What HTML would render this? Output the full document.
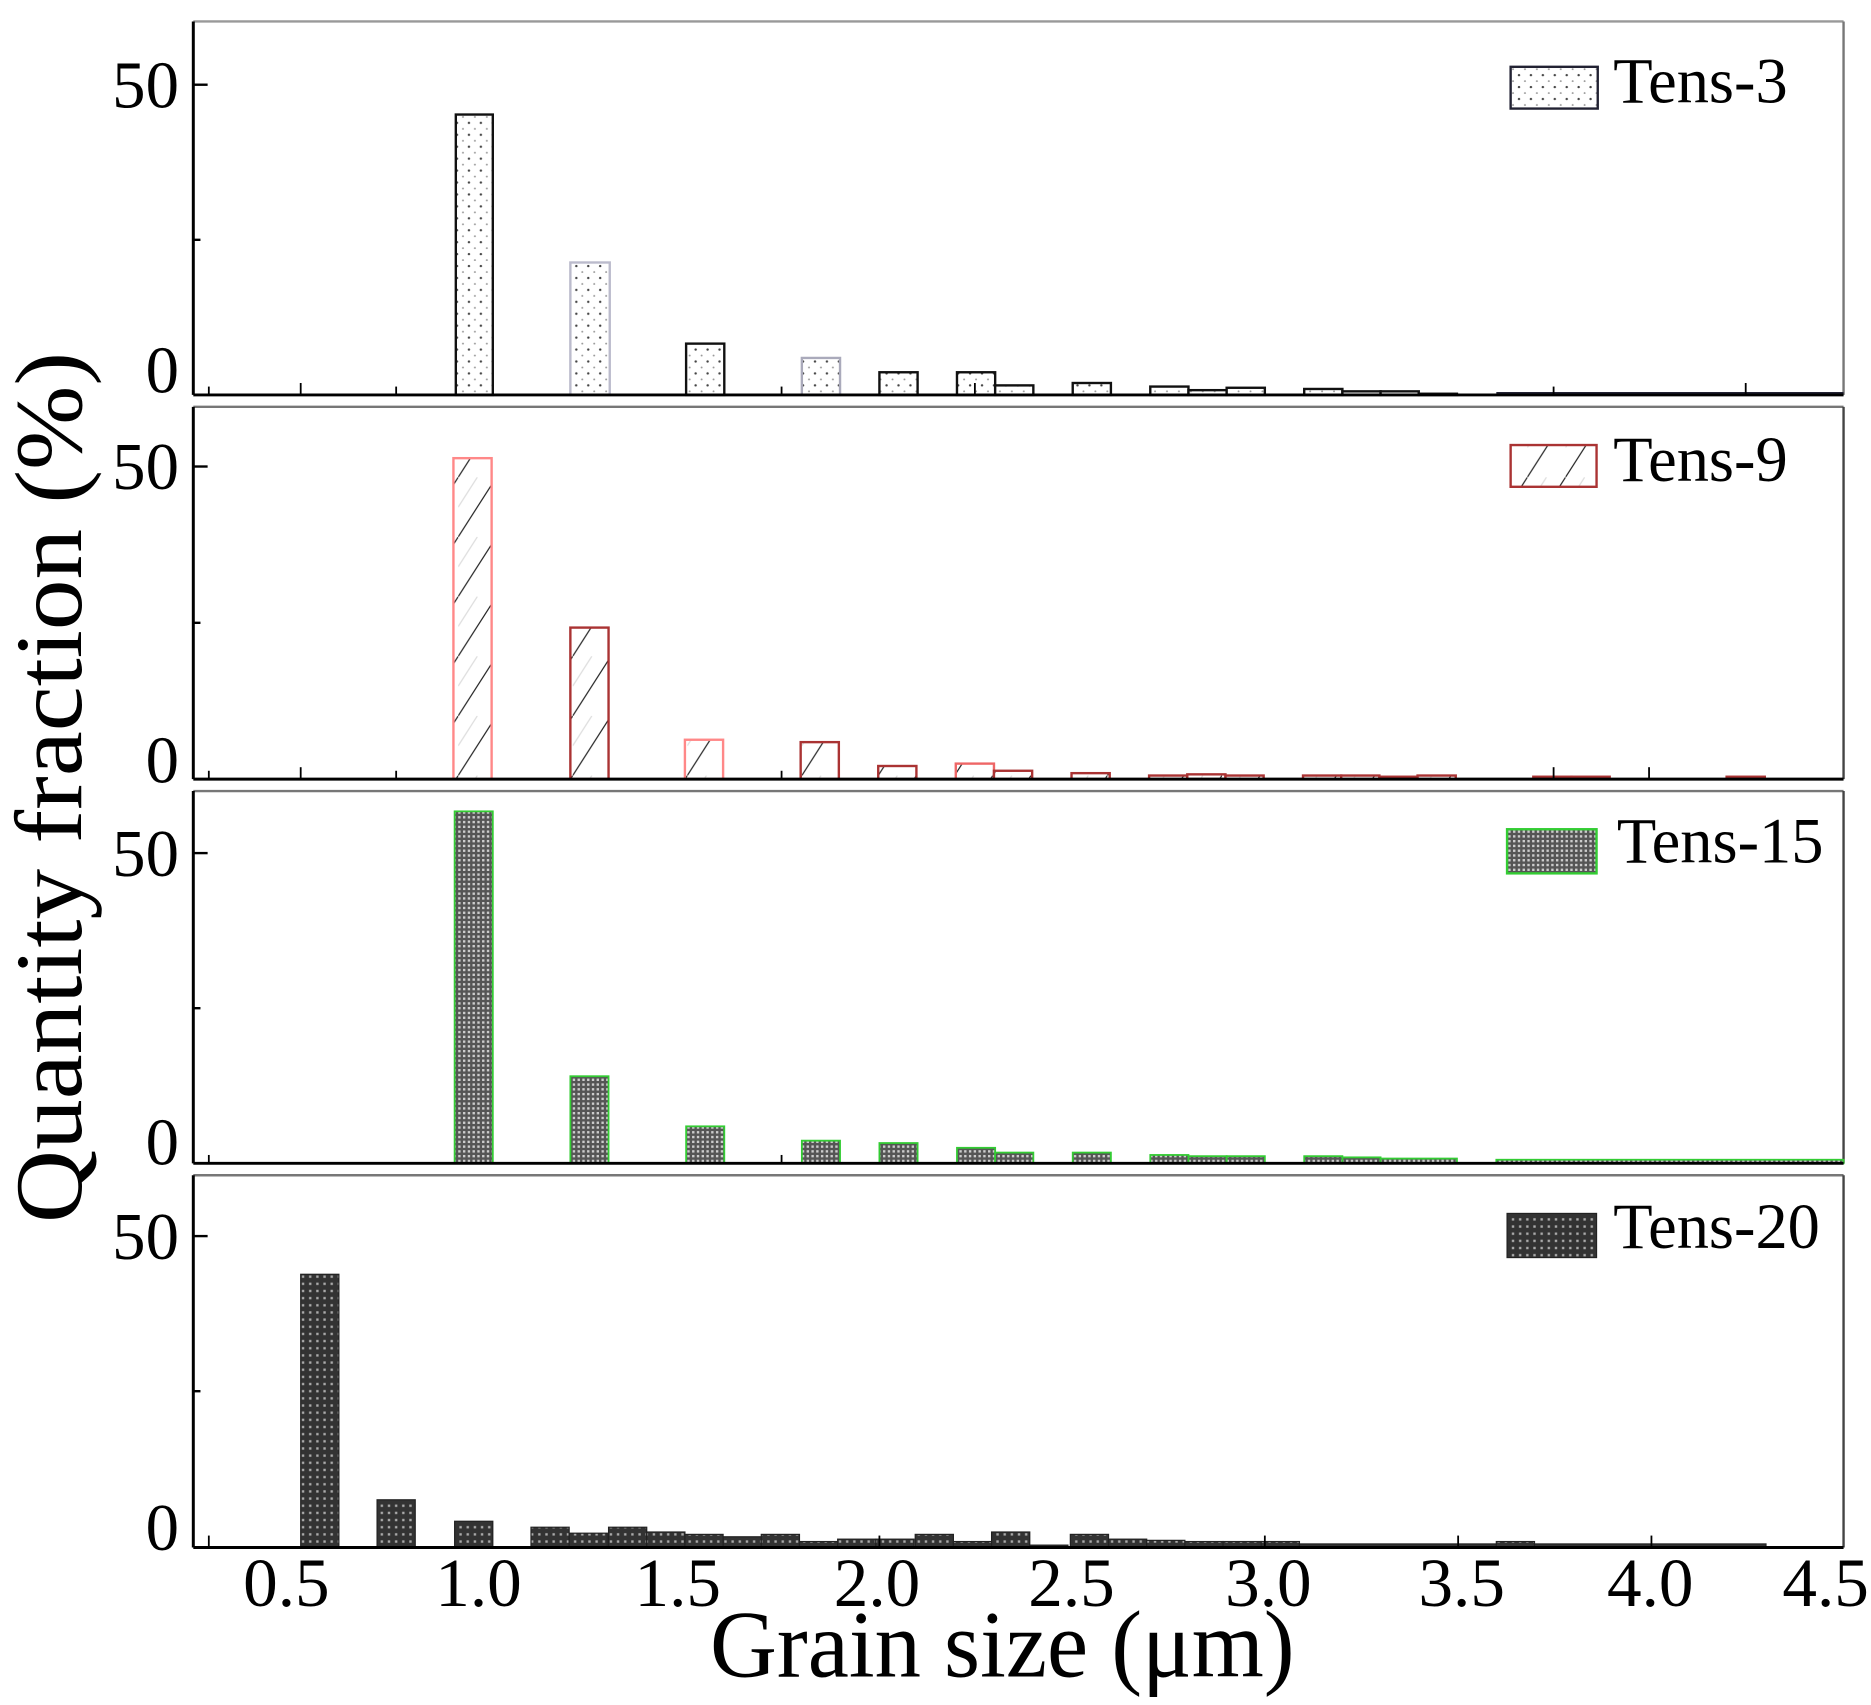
<!DOCTYPE html>
<html><head><meta charset="utf-8"><style>
html,body{margin:0;padding:0;background:#fff;}
svg{display:block;}
text{font-family:"Liberation Serif",serif;fill:#000;}
</style></head><body>
<svg width="1871" height="1705" viewBox="0 0 1568 1429" preserveAspectRatio="none" xmlns="http://www.w3.org/2000/svg">
<defs>
<pattern id="dots" width="10" height="10" patternUnits="userSpaceOnUse"><rect width="10" height="10" fill="#fff"/><circle cx="3" cy="3" r="1" fill="#444"/><circle cx="8" cy="8" r="0.8" fill="#999"/></pattern>
<pattern id="hatch" width="32" height="50" patternUnits="userSpaceOnUse"><rect width="32" height="50" fill="#fff"/><line x1="0" y1="50" x2="32" y2="0" stroke="#222" stroke-width="1"/><line x1="0" y1="25" x2="16" y2="0" stroke="#ddd" stroke-width="1"/></pattern>
<pattern id="grid15" width="4" height="4" patternUnits="userSpaceOnUse"><rect width="4" height="4" fill="#555"/><rect x="0" y="0" width="2" height="2" fill="#ccc"/></pattern>
<pattern id="grid20" width="6" height="6" patternUnits="userSpaceOnUse"><rect width="6" height="6" fill="#333"/><rect x="1" y="1" width="2" height="2" fill="#aaa"/></pattern>
</defs>

<!-- frames -->
<g fill="none">
<line x1="162" y1="18" x2="1545" y2="18" stroke="#999" stroke-width="2"/>
<line x1="1545" y1="18" x2="1545" y2="331" stroke="#777" stroke-width="2"/>
<line x1="162" y1="341" x2="1545" y2="341" stroke="#777" stroke-width="2"/>
<line x1="1545" y1="341" x2="1545" y2="653" stroke="#444" stroke-width="2"/>
<line x1="162" y1="663" x2="1545" y2="663" stroke="#777" stroke-width="2"/>
<line x1="1545" y1="663" x2="1545" y2="975" stroke="#444" stroke-width="2"/>
<line x1="162" y1="985" x2="1545" y2="985" stroke="#777" stroke-width="2"/>
<line x1="1545" y1="985" x2="1545" y2="1297" stroke="#444" stroke-width="2"/>
</g>

<!-- Panel 1 bars -->
<g fill="url(#dots)" stroke="#111" stroke-width="2">
<rect x="382" y="96" width="31" height="235"/>
<rect x="478" y="220" width="33" height="111" stroke="#bbc"/>
<rect x="575" y="288" width="32" height="43"/>
<rect x="672" y="300" width="32" height="31" stroke="#aab"/>
<rect x="737" y="312" width="32" height="19"/>
<rect x="802" y="312" width="32" height="19"/>
<rect x="834" y="323" width="32" height="8"/>
<rect x="899" y="321" width="32" height="10"/>
<rect x="964" y="324" width="32" height="7"/>
<rect x="996" y="327" width="32" height="4"/>
<rect x="1028" y="325" width="32" height="6"/>
<rect x="1093" y="326" width="32" height="5"/>
<rect x="1125" y="328" width="32" height="3"/>
<rect x="1157" y="328" width="32" height="3"/>
<rect x="1189" y="330" width="32" height="1"/>
</g>
<line x1="1254" y1="330" x2="1545" y2="330" stroke="#223" stroke-width="3"/>

<!-- Panel 2 bars -->
<g fill="url(#hatch)" stroke="#a33" stroke-width="2">
<rect x="380" y="384" width="32" height="269" stroke="#f88"/>
<rect x="478" y="526" width="32" height="127"/>
<rect x="574" y="620" width="32" height="33" stroke="#f88"/>
<rect x="671" y="622" width="32" height="31"/>
<rect x="736" y="642" width="32" height="11"/>
<rect x="801" y="640" width="32" height="13" stroke="#e66"/>
<rect x="833" y="646" width="32" height="7"/>
<rect x="898" y="648" width="32" height="5"/>
<rect x="963" y="650" width="32" height="3"/>
<rect x="995" y="649" width="32" height="4"/>
<rect x="1027" y="650" width="32" height="3"/>
<rect x="1092" y="650" width="32" height="3"/>
<rect x="1124" y="650" width="32" height="3"/>
<rect x="1156" y="651" width="32" height="2"/>
<rect x="1188" y="650" width="32" height="3"/>
<rect x="1285" y="651" width="32" height="2"/>
<rect x="1317" y="651" width="32" height="2"/>
<rect x="1447" y="651" width="32" height="2"/>
</g>

<!-- Panel 3 bars -->
<g fill="url(#grid15)" stroke="#3c3" stroke-width="1.5">
<rect x="381" y="680" width="32" height="295"/>
<rect x="478" y="902" width="32" height="73"/>
<rect x="575" y="944" width="32" height="31"/>
<rect x="672" y="956" width="32" height="19"/>
<rect x="737" y="958" width="32" height="17"/>
<rect x="802" y="962" width="32" height="13"/>
<rect x="834" y="966" width="32" height="9"/>
<rect x="899" y="966" width="32" height="9"/>
<rect x="964" y="968" width="32" height="7"/>
<rect x="996" y="969" width="32" height="6"/>
<rect x="1028" y="969" width="32" height="6"/>
<rect x="1093" y="969" width="32" height="6"/>
<rect x="1125" y="970" width="32" height="5"/>
<rect x="1157" y="971" width="64" height="4"/>
<rect x="1254" y="972" width="291" height="3"/>
</g>

<!-- Panel 4 bars -->
<g fill="url(#grid20)" stroke="#222" stroke-width="1">
<rect x="252" y="1068" width="32" height="229"/>
<rect x="316" y="1257" width="32" height="40"/>
<rect x="381" y="1275" width="32" height="22"/>
<rect x="445" y="1280" width="32" height="17"/>
<rect x="477" y="1285" width="32" height="12"/>
<rect x="510" y="1280" width="32" height="17"/>
<rect x="542" y="1284" width="32" height="13"/>
<rect x="574" y="1286" width="32" height="11"/>
<rect x="606" y="1288" width="32" height="9"/>
<rect x="638" y="1286" width="32" height="11"/>
<rect x="670" y="1292" width="32" height="5"/>
<rect x="702" y="1290" width="32" height="7"/>
<rect x="734" y="1290" width="32" height="7"/>
<rect x="767" y="1286" width="32" height="11"/>
<rect x="799" y="1292" width="32" height="5"/>
<rect x="831" y="1284" width="32" height="13"/>
<rect x="863" y="1295" width="32" height="2"/>
<rect x="897" y="1286" width="32" height="11"/>
<rect x="929" y="1290" width="32" height="7"/>
<rect x="961" y="1291" width="32" height="6"/>
<rect x="993" y="1292" width="32" height="5"/>
<rect x="1025" y="1292" width="32" height="5"/>
<rect x="1057" y="1292" width="32" height="5"/>
<rect x="1089" y="1294" width="165" height="3"/>
<rect x="1254" y="1292" width="32" height="5"/>
<rect x="1286" y="1294" width="194" height="3"/>
</g>

<!-- axes -->
<g stroke="#000" stroke-width="2.5" fill="none">
<line x1="162" y1="18" x2="162" y2="331"/>
<line x1="162" y1="331" x2="1545" y2="331"/>
<line x1="162" y1="341" x2="162" y2="653"/>
<line x1="162" y1="653" x2="1545" y2="653"/>
<line x1="162" y1="663" x2="162" y2="975"/>
<line x1="162" y1="975" x2="1545" y2="975"/>
<line x1="162" y1="985" x2="162" y2="1297"/>
<line x1="162" y1="1297" x2="1545" y2="1297"/>
</g>
<!-- y ticks -->
<g stroke="#000" stroke-width="2">
<line x1="162" y1="71" x2="174" y2="71"/><line x1="162" y1="201" x2="168" y2="201"/>
<line x1="162" y1="391" x2="174" y2="391"/><line x1="162" y1="522" x2="168" y2="522"/>
<line x1="162" y1="715" x2="174" y2="715"/><line x1="162" y1="845" x2="168" y2="845"/>
<line x1="162" y1="1036" x2="174" y2="1036"/><line x1="162" y1="1166" x2="168" y2="1166"/>
</g>
<!-- x ticks -->
<g stroke="#000" stroke-width="1.5">
<line x1="175" y1="331" x2="175" y2="324"/><line x1="252" y1="331" x2="252" y2="321"/><line x1="332" y1="331" x2="332" y2="324"/><line x1="655" y1="331" x2="655" y2="324"/><line x1="817" y1="331" x2="817" y2="321"/><line x1="1302" y1="331" x2="1302" y2="324"/><line x1="1463" y1="331" x2="1463" y2="321"/>
<line x1="175" y1="653" x2="175" y2="646"/><line x1="252" y1="653" x2="252" y2="643"/><line x1="332" y1="653" x2="332" y2="646"/><line x1="655" y1="653" x2="655" y2="646"/><line x1="1302" y1="653" x2="1302" y2="643"/><line x1="1382" y1="653" x2="1382" y2="643"/>
<line x1="175" y1="975" x2="175" y2="968"/><line x1="655" y1="975" x2="655" y2="968"/>
<line x1="175" y1="1297" x2="175" y2="1287"/><line x1="737" y1="1297" x2="737" y2="1287"/><line x1="1060" y1="1297" x2="1060" y2="1287"/><line x1="1222" y1="1297" x2="1222" y2="1287"/><line x1="1384" y1="1297" x2="1384" y2="1287"/>
</g>

<!-- y labels -->
<g font-size="56" text-anchor="end">
<text x="150" y="90">50</text><text x="150" y="329">0</text>
<text x="150" y="410">50</text><text x="150" y="656">0</text>
<text x="150" y="734">50</text><text x="150" y="976">0</text>
<text x="150" y="1055">50</text><text x="150" y="1299">0</text>
</g>
<!-- x labels -->
<g font-size="58" text-anchor="middle">
<text x="240" y="1346">0.5</text><text x="401" y="1346">1.0</text><text x="568" y="1346">1.5</text><text x="735" y="1346">2.0</text><text x="898" y="1346">2.5</text><text x="1063" y="1346">3.0</text><text x="1225" y="1346">3.5</text><text x="1383" y="1346">4.0</text><text x="1530" y="1346">4.5</text>
</g>
<text x="840" y="1405" font-size="80" text-anchor="middle" textLength="490" lengthAdjust="spacingAndGlyphs">Grain size (μm)</text>
<text transform="translate(68,660) rotate(-90)" font-size="80" text-anchor="middle" textLength="730" lengthAdjust="spacingAndGlyphs">Quantity fraction (%)</text>

<!-- legends -->
<rect x="1266" y="56" width="73" height="35" fill="url(#dots)" stroke="#223" stroke-width="2"/>
<text x="1352" y="86" font-size="54">Tens-3</text>
<rect x="1266" y="373" width="72" height="35" fill="url(#hatch)" stroke="#a33" stroke-width="2"/>
<text x="1352" y="403" font-size="54">Tens-9</text>
<rect x="1263" y="695" width="75" height="37" fill="url(#grid15)" stroke="#3c3" stroke-width="2"/>
<text x="1355" y="723" font-size="54">Tens-15</text>
<rect x="1263" y="1017" width="75" height="37" fill="url(#grid20)" stroke="#222" stroke-width="1"/>
<text x="1352" y="1046" font-size="54">Tens-20</text>
</svg>
</body></html>
